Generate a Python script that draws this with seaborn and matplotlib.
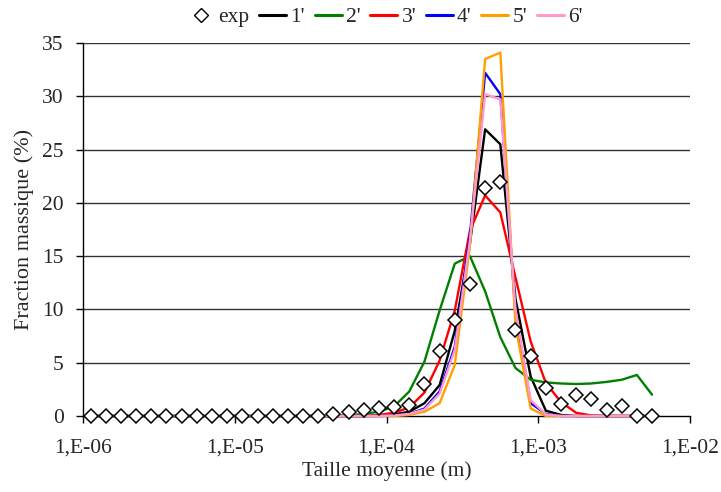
import numpy as np
import pandas as pd
import matplotlib
matplotlib.use("Agg")
import matplotlib.pyplot as plt
import seaborn as sns
from matplotlib.ticker import FixedLocator, FuncFormatter, NullLocator
from matplotlib.lines import Line2D

# ---- data ----
# size classes: 38 points, 10 per decade, geometric bin centres
log_size = [-5.95 + 0.1 * k for k in range(38)]
size = [10 ** v for v in log_size]

exp_vals = [0, 0, 0, 0, 0, 0, 0, 0, 0, 0, 0, 0, 0, 0, 0, 0,
            0.2, 0.35, 0.6, 0.75, 0.85, 1.05, 3.0, 6.1, 9.0, 12.4, 21.4, 22.0,
            8.1, 5.6, 2.6, 1.1, 2.0, 1.6, 0.6, 0.9, 0, 0]

s1 = [0] * 19 + [0.05, 0.15, 0.4, 1.2, 2.9, 8.0, 16.2, 26.9, 25.5, 11.0, 3.7,
                 0.5, 0.1, 0, 0, 0, 0, 0, 0]
s2 = [0] * 17 + [0.05, 0.2, 0.4, 0.9, 2.3, 5.1, 9.9, 14.3, 15.0, 11.7, 7.4, 4.5,
                 3.4, 3.15, 3.05, 3.0, 3.05, 3.2, 3.4, 3.85, 2.0]
s3 = [0] * 19 + [0.1, 0.3, 0.8, 2.2, 5.2, 9.9, 17.4, 20.7, 19.1, 13.0, 7.0, 3.1,
                 1.3, 0.3, 0.05, 0, 0, 0, 0]
s4 = [0] * 20 + [0.05, 0.2, 0.7, 2.3, 6.5, 17.0, 32.2, 30.2, 9.5, 1.2, 0.2,
                 0, 0, 0, 0, 0, 0, 0]
s5 = [0] * 21 + [0.1, 0.4, 1.2, 4.8, 16.0, 33.5, 34.1, 8.5, 0.7, 0,
                 0, 0, 0, 0, 0, 0, 0]
s6 = [0] * 20 + [0.05, 0.2, 0.6, 2.1, 6.2, 16.5, 30.2, 29.7, 10.0, 1.5, 0.15,
                 0, 0, 0, 0, 0, 0, 0]

series_names = ["1'", "2'", "3'", "4'", "5'", "6'"]
series_vals = [s1, s2, s3, s4, s5, s6]
series_colors = ["#000000", "#008000", "#FF0000", "#0000FF", "#FFA000", "#FF99CC"]

x_ticks = [1e-6, 1e-5, 1e-4, 1e-3, 1e-2]
x_tick_labels = ["1,E-06", "1,E-05", "1,E-04", "1,E-03", "1,E-02"]
y_ticks = [0, 5, 10, 15, 20, 25, 30, 35]

# ---- build tables ----
lines_df = pd.concat(
    [pd.DataFrame({"size": size, "val": v, "serie": n})
     for n, v in zip(series_names, series_vals)],
    ignore_index=True)
exp_df = pd.DataFrame({"size": size, "val": exp_vals})

# ---- plot ----
sns.set_theme(style="white")
plt.rcParams["font.family"] = ["Liberation Serif", "DejaVu Serif"]

fig = plt.figure(figsize=(7.21, 4.92), dpi=100)
ax = fig.add_axes([83 / 721, 1 - 416 / 492, (690 - 83) / 721, (416 - 43) / 492])

sns.lineplot(data=lines_df, x="size", y="val", hue="serie",
             palette=dict(zip(series_names, series_colors)),
             hue_order=series_names, linewidth=1.7, ax=ax, legend=False,
             estimator=None, sort=False, zorder=3)
for ln in ax.get_lines():
    ln.set_clip_on(False)
ax.plot(exp_df["size"], exp_df["val"], linestyle="none", marker="D",
        markersize=7.5, markerfacecolor="white", markeredgecolor="black",
        markeredgewidth=1.1, zorder=5, clip_on=False)

ax.set_xscale("log")
ax.set_xlim(1e-6, 1e-2)
ax.set_ylim(0, 35)
ax.xaxis.set_major_locator(FixedLocator(x_ticks))
ax.xaxis.set_minor_locator(NullLocator())
ax.xaxis.set_major_formatter(FuncFormatter(
    lambda v, p: x_tick_labels[x_ticks.index(min(x_ticks, key=lambda t: abs(np.log10(t) - np.log10(v))))]))
ax.set_yticks(y_ticks)

for y in y_ticks[1:]:
    ax.axhline(y, color="#333333", linewidth=1.0, zorder=1)

for side in ["top", "right"]:
    ax.spines[side].set_visible(False)
for side in ["left", "bottom"]:
    ax.spines[side].set_visible(True)
    ax.spines[side].set_color("black")
    ax.spines[side].set_linewidth(1.0)
    ax.spines[side].set_zorder(2)

ax.tick_params(axis="both", which="major", direction="out", length=5, width=1,
               color="black", left=True, bottom=True)
ax.tick_params(axis="x", labelsize=15.5, pad=11)
ax.tick_params(axis="y", labelsize=15.5, pad=9)

ax.set_xlabel("Taille moyenne (m)", fontsize=15.5, labelpad=3)
ax.set_ylabel("Fraction massique (%)", fontsize=16, labelpad=6)

# legend
handles = [Line2D([], [], linestyle="none", marker="D", markersize=7,
                  markerfacecolor="white", markeredgecolor="black",
                  markeredgewidth=1.0)]
handles += [Line2D([], [], color=c, linewidth=2.2) for c in series_colors]
labels = ["exp"] + series_names
fig.legend(handles, labels, loc="center", bbox_to_anchor=(385 / 721, 1 - 17 / 492),
           ncol=7, frameon=False, fontsize=15.5, handlelength=1.25,
           handletextpad=0.2, columnspacing=0.45, borderaxespad=0)

fig.savefig("out.png", dpi=100, facecolor="white")
